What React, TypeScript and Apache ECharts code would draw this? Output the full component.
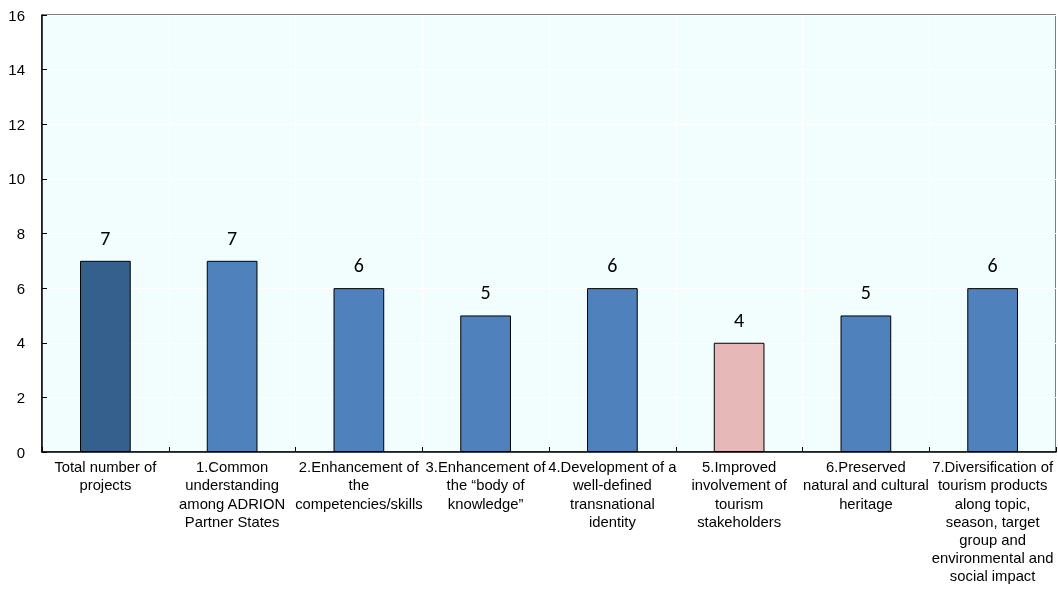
import React, { useEffect, useRef } from "react";
import * as echarts from "echarts";

const categories = [
  "Total number of\nprojects",
  "1.Common\nunderstanding\namong ADRION\nPartner States",
  "2.Enhancement of\nthe\ncompetencies/skills",
  "3.Enhancement of\nthe \u201cbody of\nknowledge\u201d",
  "4.Development of a\nwell-defined\ntransnational\nidentity",
  "5.Improved\ninvolvement of\ntourism\nstakeholders",
  "6.Preserved\nnatural and cultural\nheritage",
  "7.Diversification of\ntourism products\nalong topic,\nseason, target\ngroup and\nenvironmental and\nsocial impact",
];
const values = [7, 7, 6, 5, 6, 4, 5, 6];
const barColors = ["#355F8D", "#4F81BD", "#4F81BD", "#4F81BD", "#4F81BD", "#E6B9B8", "#4F81BD", "#4F81BD"];

export default function App() {
  const ref = useRef<HTMLDivElement>(null);
  useEffect(() => {
    const chart = echarts.init(ref.current!, null, { renderer: "svg" });
    chart.setOption({
      animation: false,
      grid: {
        left: 42,
        right: 2,
        top: 15,
        bottom: 145,
        show: true,
        backgroundColor: "#F2FEFE",
        borderColor: "#000",
        borderWidth: 1,
      },
      xAxis: {
        type: "category",
        data: categories,
        axisLine: { lineStyle: { color: "#000", width: 1.5 } },
        axisTick: { show: true, inside: true, length: 5, lineStyle: { color: "#000" } },
        splitLine: { show: true, lineStyle: { color: "#FFFFFF", width: 1 } },
        axisLabel: {
          interval: 0,
          color: "#000",
          fontFamily: "Liberation Sans, Arial, sans-serif",
          fontSize: 14.8,
          lineHeight: 18.2,
          margin: 6,
        },
      },
      yAxis: {
        type: "value",
        min: 0,
        max: 16,
        interval: 2,
        axisLine: { show: true, lineStyle: { color: "#000", width: 1.5 } },
        axisTick: { show: true, inside: true, length: 5, lineStyle: { color: "#000" } },
        splitLine: { show: true, lineStyle: { color: "#FFFFFF", width: 1 } },
        axisLabel: {
          color: "#000",
          fontFamily: "Liberation Sans, Arial, sans-serif",
          fontSize: 15,
          margin: 17,
        },
      },
      series: [
        {
          type: "bar",
          barWidth: "40%",
          data: values.map((v, i) => ({
            value: v,
            itemStyle: { color: barColors[i], borderColor: "#000", borderWidth: 1 },
          })),
          label: {
            show: true,
            position: "top",
            distance: 13,
            color: "#000",
            fontFamily: "Carlito, Lato, sans-serif",
            fontSize: 20,
          },
        },
      ],
    });
    return () => chart.dispose();
  }, []);
  return <div ref={ref} style={{ position: "fixed", left: 0, top: 0, width: 1058, height: 597 }} />;
}
